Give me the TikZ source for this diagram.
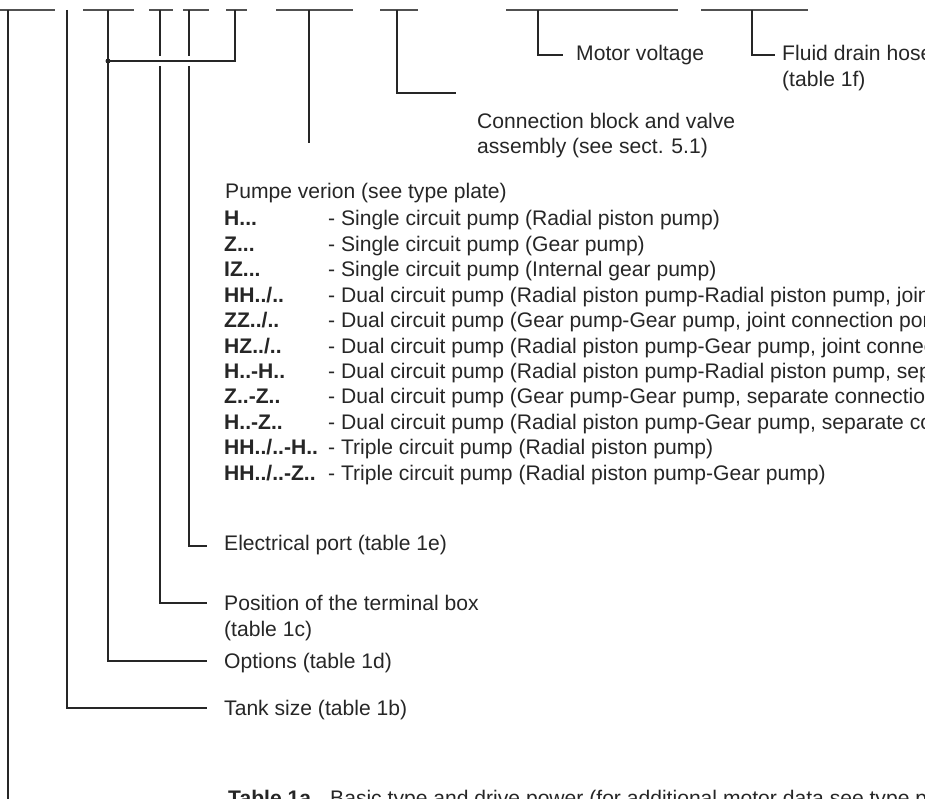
\documentclass[tikz,border=0pt]{standalone}
\usepackage{fontspec}
\setmainfont{Liberation Sans}
\definecolor{ink}{HTML}{262626}
\begin{document}
\begin{tikzpicture}[x=1pt,y=-1pt,
  conn/.style={draw=ink, line width=1.1pt},
  bar/.style={draw=ink!80, line width=1.4pt},
  txt/.style={anchor=base west, inner sep=0pt, text=ink, font=\fontsize{21.1}{25.5}\selectfont},
  btxt/.style={txt, font=\fontsize{21.1}{25.5}\selectfont\bfseries},
  dot/.style={circle, fill=ink, inner sep=0pt, minimum size=5pt}]
\useasboundingbox (0,0) rectangle (925,799);

% top bars
\draw[bar] (0,10) -- (55,10);
\draw[bar] (83,10) -- (134,10);
\draw[bar] (149,10) -- (173,10);
\draw[bar] (183,10) -- (209,10);
\draw[bar] (226,10) -- (247,10);
\draw[bar] (276,10) -- (353,10);
\draw[bar] (380,10) -- (418,10);
\draw[bar] (506,10) -- (678,10);
\draw[bar] (701,10) -- (808,10);

% top coordinates
\coordinate (t8) at (8,10);
\coordinate (t67) at (67,10);
\coordinate (t108) at (108,10);
\coordinate (t160) at (160,10);
\coordinate (t189) at (189,10);
\coordinate (t235) at (235,10);
\coordinate (t309) at (309,10);
\coordinate (t397) at (397,10);
\coordinate (t538) at (538,10);
\coordinate (t752) at (752,10);

% ends
\coordinate (b8) at (8,805);
\coordinate (e67) at (207,708);
\coordinate (e108) at (207,661);
\coordinate (e160) at (207,603);
\coordinate (e189) at (207,546);
\coordinate (e309) at (309,143);
\coordinate (e397) at (456,93);
\coordinate (e538) at (563,55);
\coordinate (e752) at (775,55);
\coordinate (g160a) at (160,56);
\coordinate (g160b) at (160,66);
\coordinate (g189a) at (189,56);
\coordinate (g189b) at (189,66);

\node[dot] (j) at (108,61) {};

% connectors
\draw[conn] (t8) -- (b8);
\draw[conn] (t67) |- (e67);
\draw[conn] (t108) |- (e108);
\draw[conn] (t160) -- (g160a);
\draw[conn] (g160b) |- (e160);
\draw[conn] (t189) -- (g189a);
\draw[conn] (g189b) |- (e189);
\draw[conn] (t235) |- (j.center);

\draw[conn] (t309) -- (e309);
\draw[conn] (t397) |- (e397);
\draw[conn] (t538) |- (e538);
\draw[conn] (t752) |- (e752);

% labels top right
\node[txt] (motor) at (576,61) {Motor voltage};
\node[txt] (fluid1) at (782,61) {Fluid drain hose};
\node[txt] (fluid2) at (782,87) {(table 1f)};
\node[txt] (conn1) at (477,129) {Connection block and valve};
\node[txt] (conn2) at (477,154) {assembly (see sect. 5.1)};

% pump list
\node[txt] (pump) at (225,199) {Pumpe verion (see type plate)};
\node[btxt] (k1) at (224,226) {H...};
\node[txt] (d1) at (328,226) {- Single circuit pump (Radial piston pump)};
\node[btxt] (k2) at (224,251.4) {Z...};
\node[txt] (d2) at (328,251.4) {- Single circuit pump (Gear pump)};
\node[btxt] (k3) at (224,276.8) {IZ...};
\node[txt] (d3) at (328,276.8) {- Single circuit pump (Internal gear pump)};
\node[btxt] (k4) at (224,302.2) {HH../..};
\node[txt] (d4) at (328,302.2) {- Dual circuit pump (Radial piston pump-Radial piston pump, joint connection port)};
\node[btxt] (k5) at (224,327.6) {ZZ../..};
\node[txt] (d5) at (328,327.6) {- Dual circuit pump (Gear pump-Gear pump, joint connection port)};
\node[btxt] (k6) at (224,353) {HZ../..};
\node[txt] (d6) at (328,353) {- Dual circuit pump (Radial piston pump-Gear pump, joint connection port)};
\node[btxt] (k7) at (224,378.4) {H..-H..};
\node[txt] (d7) at (328,378.4) {- Dual circuit pump (Radial piston pump-Radial piston pump, separate connection ports)};
\node[btxt] (k8) at (224,403.8) {Z..-Z..};
\node[txt] (d8) at (328,403.8) {- Dual circuit pump (Gear pump-Gear pump, separate connection ports)};
\node[btxt] (k9) at (224,429.2) {H..-Z..};
\node[txt] (d9) at (328,429.2) {- Dual circuit pump (Radial piston pump-Gear pump, separate connection ports)};
\node[btxt] (k10) at (224,454.6) {HH../..-H..};
\node[txt] (d10) at (328,454.6) {- Triple circuit pump (Radial piston pump)};
\node[btxt] (k11) at (224,480) {HH../..-Z..};
\node[txt] (d11) at (328,480) {- Triple circuit pump (Radial piston pump-Gear pump)};

% left labels
\node[txt] (elec) at (224,550) {Electrical port (table 1e)};
\node[txt] (pos1) at (224,610) {Position of the terminal box};
\node[txt] (pos2) at (224,636) {(table 1c)};
\node[txt] (opt) at (224,668) {Options (table 1d)};
\node[txt] (tank) at (224,715) {Tank size (table 1b)};

% bottom caption (cut by page edge)
\node[btxt] (tab) at (228,805) {Table 1a};
\node[txt] (tabd) at (330,805) {Basic type and drive power (for additional motor data see type plate)};
\end{tikzpicture}
\end{document}
